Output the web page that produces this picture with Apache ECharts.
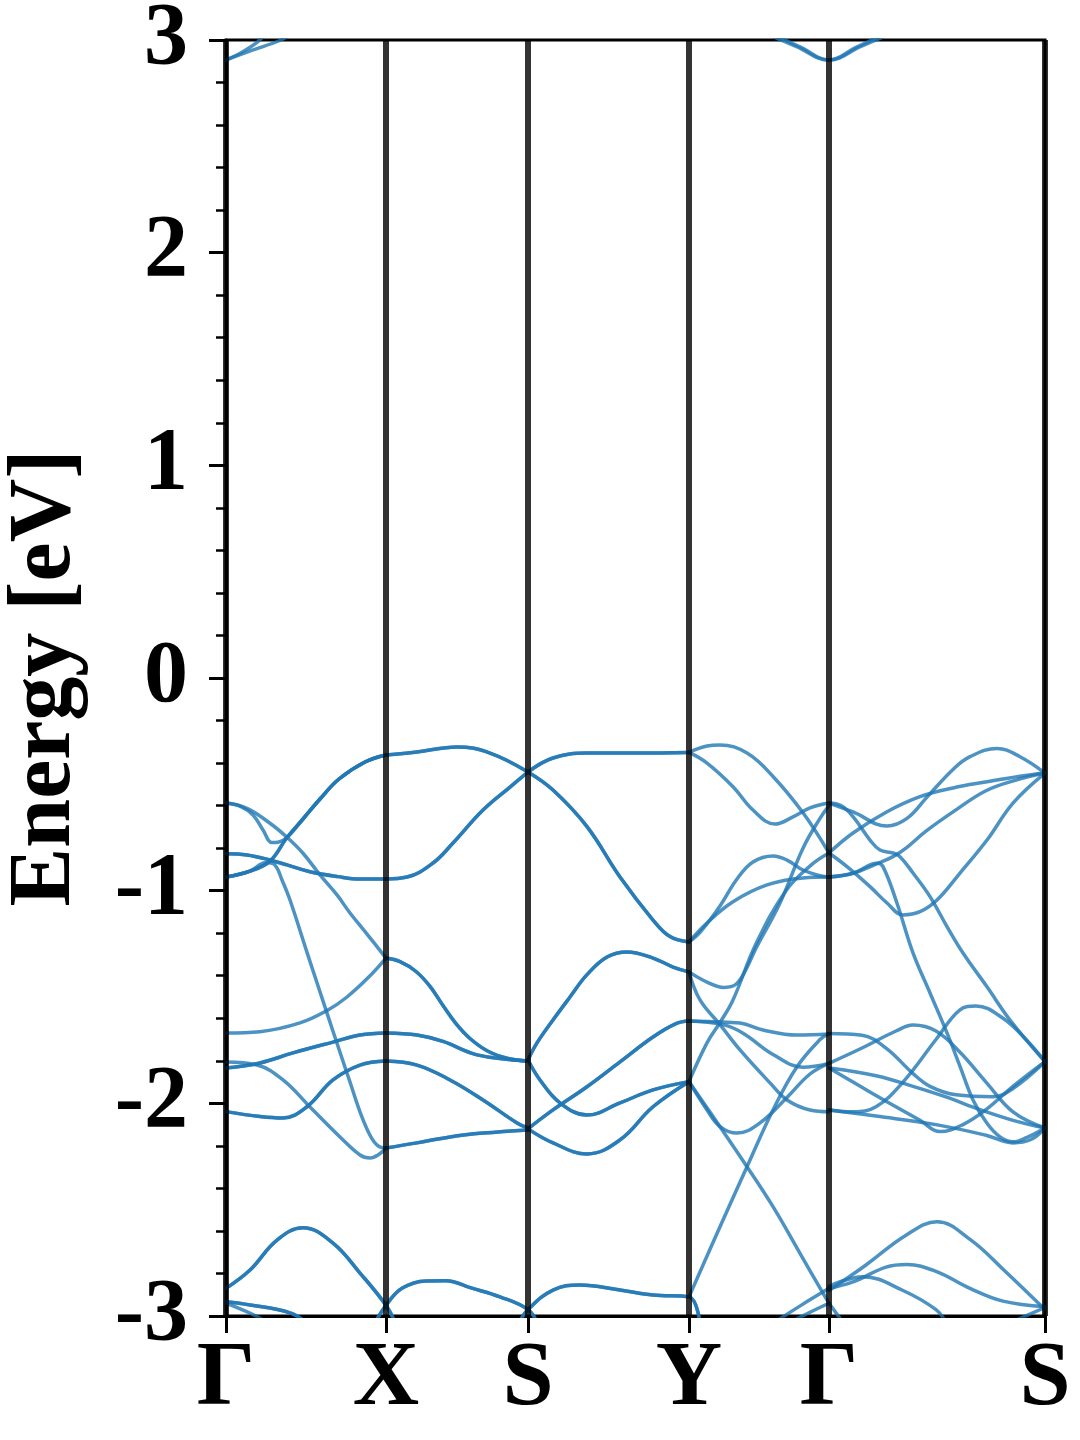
<!DOCTYPE html>
<html><head><meta charset="utf-8">
<script src="https://cdn.jsdelivr.net/npm/echarts@6/dist/echarts.min.js"></script>
<style>html,body{margin:0;padding:0;background:#fff}#c{width:1080px;height:1440px}</style>
</head><body><div id="c"></div>
<script>
// high-symmetry points (path distance) and labels
const kTicks = [0, 1.60, 3.02, 4.63, 6.03, 8.19];
const kLabels = ['Γ', 'X', 'S', 'Y', 'Γ', 'S'];
const yTicks = [-3, -2, -1, 0, 1, 2, 3];

// ---- bands: [k, E(eV)] ; "double" bands are drawn twice (degenerate) ----
// Γ–X
const gxUp   = [[0,-0.936],[0.24,-0.908],[0.44,-0.861],[0.61,-0.750],[0.77,-0.663],[0.94,-0.569],[1.13,-0.475],[1.39,-0.395],[1.60,-0.362]];
const gxDip  = [[0,-0.588],[0.14,-0.602],[0.27,-0.644],[0.37,-0.715],[0.46,-0.774],[0.52,-0.772],[0.61,-0.750],[0.77,-0.663],[0.94,-0.569],[1.13,-0.475],[1.39,-0.395],[1.60,-0.362]];
const gxSteep= [[0,-0.936],[0.24,-0.908],[0.40,-0.868],[0.49,-0.880],[0.56,-0.950],[0.64,-1.044],[0.81,-1.290],[1.02,-1.590],[1.14,-1.760],[1.24,-1.900],[1.34,-2.040],[1.44,-2.150],[1.52,-2.200],[1.60,-2.210]];
const gxDown = [[0,-0.588],[0.21,-0.613],[0.44,-0.683],[0.61,-0.749],[0.77,-0.824],[0.94,-0.926],[1.11,-1.020],[1.24,-1.105],[1.42,-1.210],[1.60,-1.317]];
const gxB4   = [[0,-0.826],[0.21,-0.832],[0.44,-0.856],[0.61,-0.879],[0.84,-0.911],[1.12,-0.934],[1.34,-0.945],[1.60,-0.945]];
const gxB5   = [[0,-1.669],[0.34,-1.663],[0.74,-1.622],[1.02,-1.561],[1.21,-1.500],[1.42,-1.410],[1.60,-1.317]];
const gxB6   = [[0,-1.834],[0.34,-1.810],[0.67,-1.763],[1.07,-1.712],[1.34,-1.679],[1.60,-1.669]];
const gxB7   = [[0,-1.806],[0.31,-1.820],[0.57,-1.890],[0.84,-2.017],[1.14,-2.158],[1.34,-2.243],[1.44,-2.257],[1.52,-2.243],[1.60,-2.210]];
const gxB8   = [[0,-2.039],[0.34,-2.062],[0.57,-2.069],[0.81,-2.016],[1.07,-1.890],[1.34,-1.820],[1.60,-1.801]];
const gxB9   = [[0,-2.870],[0.24,-2.784],[0.51,-2.643],[0.77,-2.585],[1.07,-2.657],[1.34,-2.798],[1.60,-2.950],[1.70,-3.040]];
const gxLo1  = [[0,-2.933],[0.24,-2.948],[0.64,-2.985],[0.80,-3.030]];
const gxLo2  = [[0,-2.940],[0.30,-3.000],[0.40,-3.030]];
const gxTop1 = [[0,2.906],[0.15,2.940],[0.30,2.985],[0.40,3.030]];
const gxTop2 = [[0,2.906],[0.25,2.950],[0.55,3.000],[0.65,3.030]];
// X–S
const xsTop  = [[1.60,-0.362],[1.91,-0.348],[2.31,-0.324],[2.64,-0.353],[3.02,-0.442]];
const xsB4   = [[1.60,-0.945],[1.81,-0.936],[2.07,-0.870],[2.27,-0.776],[2.57,-0.621],[2.84,-0.513],[3.02,-0.442]];
const xsB5   = [[1.60,-1.317],[1.74,-1.334],[1.90,-1.380],[2.04,-1.450],[2.17,-1.540],[2.30,-1.625],[2.44,-1.695],[2.62,-1.755],[2.82,-1.789],[3.02,-1.801]];
const xsB6   = [[1.60,-1.669],[1.91,-1.679],[2.17,-1.709],[2.51,-1.772],[3.02,-1.801]];
const xsB8   = [[1.60,-1.801],[1.91,-1.820],[2.24,-1.890],[2.57,-1.984],[2.91,-2.092],[3.02,-2.116]];
const xsB7   = [[1.60,-2.210],[1.91,-2.186],[2.24,-2.158],[2.57,-2.140],[3.02,-2.125]];
const xsBot  = [[1.48,-3.040],[1.60,-2.950],[1.76,-2.870],[2.00,-2.835],[2.20,-2.834],[2.45,-2.868],[2.74,-2.910],[3.02,-2.970],[3.12,-3.040]];
// S–Y
const syTop  = [[3.02,-0.442],[3.27,-0.376],[3.61,-0.353],[4.11,-0.353],[4.63,-0.350]];
const syB4   = [[3.02,-0.442],[3.27,-0.527],[3.61,-0.699],[3.94,-0.936],[4.27,-1.138],[4.44,-1.216],[4.63,-1.241]];
const syB1   = [[3.02,-1.796],[3.11,-1.716],[3.27,-1.608],[3.44,-1.500],[3.61,-1.395],[3.81,-1.312],[4.01,-1.288],[4.27,-1.317],[4.47,-1.359],[4.63,-1.382]];
const syB2   = [[3.02,-1.796],[3.14,-1.890],[3.34,-1.998],[3.61,-2.055],[3.94,-1.998],[4.27,-1.937],[4.63,-1.898]];
const syB3   = [[3.02,-2.120],[3.27,-2.031],[3.61,-1.922],[3.94,-1.805],[4.27,-1.688],[4.50,-1.625],[4.63,-1.613]];
const syB5   = [[3.02,-2.120],[3.27,-2.186],[3.61,-2.238],[3.94,-2.172],[4.27,-2.016],[4.63,-1.898]];
const syBot  = [[2.92,-3.040],[3.02,-2.970],[3.27,-2.878],[3.54,-2.854],[3.94,-2.878],[4.27,-2.901],[4.63,-2.910],[4.74,-3.040]];
// Y–Γ
const ygL1   = [[4.63,-0.350],[4.81,-0.320],[4.94,-0.315],[5.21,-0.353],[5.47,-0.463],[5.77,-0.634],[6.03,-0.823]];
const ygL2   = [[4.63,-0.350],[4.81,-0.400],[5.07,-0.511],[5.27,-0.621],[5.49,-0.687],[5.67,-0.653],[5.84,-0.611],[6.03,-0.588]];
const ygL3   = [[4.63,-1.241],[4.81,-1.152],[5.07,-1.052],[5.41,-0.973],[5.77,-0.940],[6.03,-0.936]];
const ygL4   = [[4.63,-1.241],[4.74,-1.196],[4.94,-1.072],[5.11,-0.945],[5.27,-0.865],[5.47,-0.837],[5.61,-0.856],[5.77,-0.903],[5.94,-0.930],[6.03,-0.936]];
const ygL5   = [[4.63,-1.382],[4.81,-1.430],[4.98,-1.455],[5.10,-1.440],[5.20,-1.370],[5.30,-1.270],[5.54,-1.058],[5.77,-0.800],[5.94,-0.660],[6.03,-0.600]];
const ygL6   = [[4.63,-1.898],[4.81,-1.716],[4.94,-1.620],[5.07,-1.514],[5.30,-1.250],[5.60,-1.000],[5.85,-0.880],[6.03,-0.823]];
const ygL7   = [[4.63,-1.613],[4.87,-1.616],[5.14,-1.622],[5.37,-1.655],[5.71,-1.679],[6.03,-1.674]];
const ygL8   = [[4.63,-1.613],[4.97,-1.630],[5.17,-1.670],[5.47,-1.770],[5.77,-1.830],[6.03,-1.812]];
const ygL9   = [[4.63,-1.382],[4.74,-1.514],[4.94,-1.630],[5.14,-1.749],[5.44,-1.904],[5.61,-1.984],[5.84,-2.031],[6.03,-2.039]];
const ygL10  = [[4.63,-1.898],[4.81,-2.031],[4.94,-2.109],[5.11,-2.140],[5.34,-2.092],[5.61,-1.972],[5.84,-1.862],[6.03,-1.812]];
const ygL11  = [[4.63,-1.898],[4.94,-2.110],[5.21,-2.298],[5.47,-2.486],[5.74,-2.705],[5.97,-2.893],[6.03,-2.940]];
const ygL12  = [[4.63,-2.910],[4.94,-2.580],[5.21,-2.298],[5.47,-2.031],[5.71,-1.828],[5.94,-1.700],[6.03,-1.672]];
const ygBot1 = [[5.45,-3.040],[5.75,-2.950],[6.03,-2.870]];
const ygBot2 = [[5.60,-3.040],[5.85,-2.980],[6.03,-2.940]];
const ygTop1 = [[5.45,3.020],[5.70,2.970],[6.03,2.906],[6.35,2.970],[6.60,3.020]];
const ygTop2 = [[5.50,3.020],[5.75,2.965],[6.03,2.906],[6.30,2.965],[6.55,3.020]];
// Γ–S
const gsG1   = [[6.03,-0.588],[6.27,-0.630],[6.61,-0.696],[6.81,-0.660],[7.01,-0.560],[7.27,-0.430],[7.44,-0.370],[7.71,-0.331],[7.94,-0.370],[8.19,-0.447]];
const gsG2   = [[6.03,-0.823],[6.27,-0.729],[6.61,-0.629],[6.94,-0.558],[7.27,-0.517],[7.61,-0.488],[7.94,-0.462],[8.19,-0.447]];
const gsG3   = [[6.03,-0.823],[6.21,-0.887],[6.44,-0.981],[6.61,-1.058],[6.77,-1.114],[6.94,-1.099],[7.11,-1.044],[7.34,-0.917],[7.61,-0.762],[7.87,-0.588],[8.19,-0.447]];
const gsG4   = [[6.03,-0.936],[6.27,-0.918],[6.50,-0.875],[6.67,-0.840],[6.80,-0.800],[7.00,-0.720],[7.30,-0.620],[7.60,-0.530],[7.90,-0.480],[8.19,-0.447]];
const gsG5   = [[6.03,-0.588],[6.15,-0.600],[6.27,-0.652],[6.44,-0.762],[6.54,-0.809],[6.67,-0.823],[6.74,-0.840],[6.87,-0.917],[7.04,-1.028],[7.21,-1.169],[7.37,-1.293],[7.61,-1.452],[7.84,-1.608],[8.19,-1.804]];
const gsG6   = [[6.03,-0.936],[6.27,-0.918],[6.51,-0.871],[6.57,-0.887],[6.71,-1.059],[6.87,-1.293],[7.04,-1.481],[7.21,-1.669],[7.34,-1.826],[7.47,-1.984],[7.61,-2.094],[7.74,-2.158],[7.87,-2.181],[8.01,-2.160],[8.19,-2.116]];
const gsL1   = [[6.03,-1.672],[6.36,-1.680],[6.60,-1.740],[6.87,-1.860],[7.04,-1.920],[7.30,-1.960],[7.67,-1.969],[7.87,-1.930],[8.19,-1.804]];
const gsL2   = [[6.03,-1.812],[6.36,-1.740],[6.70,-1.660],[6.87,-1.632],[7.10,-1.660],[7.34,-1.760],[7.60,-1.900],[7.87,-2.040],[8.19,-2.116]];
const gsL3   = [[6.03,-1.834],[6.50,-1.870],[6.87,-1.920],[7.20,-1.970],[7.54,-2.030],[7.87,-2.080],[8.19,-2.116]];
const gsL4   = [[6.03,-1.834],[6.27,-1.900],[6.60,-1.990],[6.94,-2.080],[7.14,-2.133],[7.37,-2.100],[7.60,-2.030],[7.87,-1.920],[8.19,-1.804]];
const gsL5   = [[6.03,-2.031],[6.27,-2.040],[6.50,-2.016],[6.77,-1.900],[7.10,-1.700],[7.34,-1.560],[7.50,-1.542],[7.77,-1.600],[8.00,-1.700],[8.19,-1.804]];
const gsL6   = [[6.03,-2.031],[6.50,-2.060],[7.10,-2.100],[7.60,-2.150],[7.87,-2.186],[8.05,-2.170],[8.19,-2.116]];
const gsBot1 = [[6.03,-2.870],[6.27,-2.840],[6.60,-2.770],[6.81,-2.758],[7.10,-2.790],[7.44,-2.870],[7.77,-2.930],[8.19,-2.956]];
const gsBot2 = [[6.03,-2.880],[6.40,-2.760],[6.80,-2.620],[7.11,-2.557],[7.44,-2.640],[7.77,-2.780],[8.19,-2.970]];
const gsBot3 = [[6.03,-2.860],[6.37,-2.815],[6.77,-2.880],[7.10,-2.970],[7.20,-3.030]];
const gsBot4 = [[6.03,-2.940],[6.17,-3.030]];
const gsBot5 = [[7.80,-3.040],[8.19,-2.960]];

const singleBands = [gxDip, gxSteep, gxDown, gxB5, gxB7, gxLo2, gxTop1, gxTop2,
  ygL1, ygL2, ygL3, ygL4, ygL5, ygL6, ygL7, ygL8, ygL9, ygL10, ygL11, ygL12, ygBot1, ygBot2, ygTop1, ygTop2,
  gsG1, gsG2, gsG3, gsG4, gsG5, gsG6, gsL1, gsL2, gsL3, gsL4, gsL5, gsL6, gsBot1, gsBot2, gsBot3, gsBot4, gsBot5];
const doubleBands = [gxUp, gxB4, gxB6, gxB8, gxB9, gxLo1,
  xsTop, xsB4, xsB5, xsB6, xsB8, xsB7, xsBot,
  syTop, syB4, syB1, syB2, syB3, syB5, syBot];

const FONT = 'Liberation Serif, Times New Roman, serif';
const bandStyle = {color: '#1f77b4', width: 3.5, opacity: 0.8, cap: 'round', join: 'round'};
const series = [];
const addBand = (d) => series.push({type: 'line', data: d, smooth: 0.4, showSymbol: false, symbol: 'none',
  lineStyle: bandStyle, silent: true, z: 2, animation: false, clip: true});
singleBands.forEach(addBand);
doubleBands.forEach(d => { addBand(d); addBand(d); });
series.push({type: 'line', data: [], z: 4, silent: true,
  markLine: {silent: true, symbol: ['none', 'none'], animation: false, label: {show: false},
    lineStyle: {color: '#000', opacity: 0.8, width: 6, type: 'solid'},
    data: kTicks.map(k => ({xAxis: k}))}});

const chart = echarts.init(document.getElementById('c'), null, {renderer: 'canvas'});
chart.setOption({
  animation: false,
  backgroundColor: '#fff',
  grid: {left: 226, right: 35, top: 40, bottom: 124, containLabel: false, outerBoundsMode: 'none',
    show: true, borderColor: '#000', borderWidth: 3, backgroundColor: 'transparent'},
  xAxis: {type: 'value', min: 0, max: 8.19,
    axisLine: {show: true, onZero: false, lineStyle: {color: '#000', width: 3}},
    splitLine: {show: false},
    axisTick: {show: true, customValues: kTicks, length: 17, lineStyle: {color: '#000', width: 3}},
    axisLabel: {show: true, customValues: kTicks, margin: 18, color: '#000', fontFamily: FONT, fontWeight: 'bold', fontSize: 92,
      formatter: (v) => { const i = kTicks.findIndex(k => Math.abs(k - v) < 1e-6); return i >= 0 ? kLabels[i] : ''; }}
  },
  yAxis: {type: 'value', min: -3, max: 3, interval: 1,
    name: 'Energy [eV]', nameLocation: 'middle', nameRotate: 90, nameGap: 136,
    nameTextStyle: {color: '#000', fontFamily: FONT, fontWeight: 'bold', fontSize: 88},
    axisLine: {show: true, lineStyle: {color: '#000', width: 3}},
    splitLine: {show: false},
    axisTick: {show: true, length: 17, lineStyle: {color: '#000', width: 3}},
    minorTick: {show: true, splitNumber: 5, length: 10, lineStyle: {color: '#000', width: 2.5}},
    axisLabel: {margin: 38, color: '#000', fontFamily: FONT, fontWeight: 'bold', fontSize: 88,
      formatter: (v) => (v < 0 ? '-' + Math.abs(v) : String(v))}
  },
  series: series
});
</script></body></html>
